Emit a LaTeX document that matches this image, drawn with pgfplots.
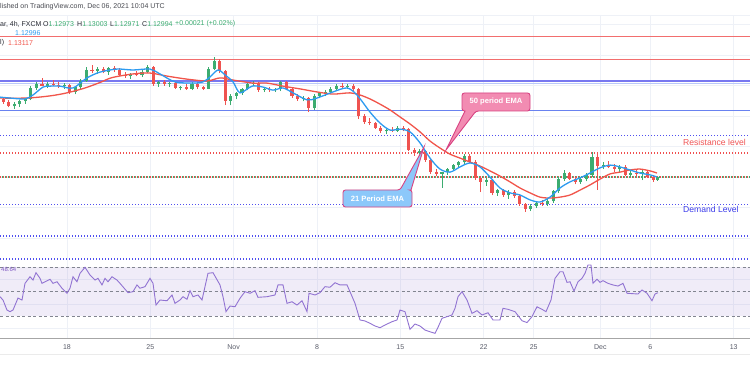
\documentclass[border=0pt]{standalone}
\usepackage{pgfplots}
\pgfplotsset{compat=1.18}
\usepackage{pgfplotstable}
\usepackage{fontspec}
\setmainfont{Liberation Sans}

\definecolor{upc}{RGB}{60,172,112}
\definecolor{dnc}{RGB}{239,83,80}
\definecolor{emab}{RGB}{45,155,240}
\definecolor{emar}{RGB}{241,85,75}
\definecolor{gridc}{RGB}{238,241,247}
\definecolor{redline}{RGB}{242,110,110}
\definecolor{bluethick}{RGB}{120,120,240}
\definecolor{bluelight}{RGB}{185,200,250}
\definecolor{bluethin}{RGB}{105,130,240}
\definecolor{dotblue}{RGB}{80,80,240}
\definecolor{dotred}{RGB}{240,80,80}
\definecolor{rsic}{RGB}{145,115,210}
\definecolor{rsiband}{RGB}{126,87,194}
\definecolor{dashc}{RGB}{130,133,144}
\definecolor{tickc}{RGB}{90,93,106}
\definecolor{txtc}{RGB}{40,42,50}
\definecolor{pinkfill}{RGB}{242,140,178}
\definecolor{pinkedge}{RGB}{216,67,130}
\definecolor{bluefill}{RGB}{140,200,250}
\definecolor{resc}{RGB}{240,85,85}
\definecolor{demc}{RGB}{60,60,235}

% 8-hour candles, x in trading days from Mon 18 Oct 2021
\pgfplotstableread{
x o h l c
-3.833 1.1555 1.1562 1.1540 1.1545
-3.5 1.1545 1.1552 1.1528 1.1532
-3.167 1.1532 1.1545 1.1524 1.1538
-2.833 1.1538 1.1552 1.1530 1.1548
-2.5 1.1548 1.1560 1.1540 1.1555
-2.167 1.1555 1.1598 1.1552 1.1592
-1.833 1.1592 1.1612 1.1585 1.1606
-1.5 1.1606 1.1624 1.1598 1.1600
-1.167 1.1600 1.1612 1.1592 1.1606
-0.833 1.1606 1.1618 1.1598 1.1603
-0.5 1.1603 1.1612 1.1592 1.1598
-0.167 1.1598 1.1608 1.1590 1.1601
0.167 1.1601 1.1604 1.1572 1.1580
0.5 1.1580 1.1598 1.1571 1.1594
0.833 1.1594 1.1620 1.1590 1.1615
1.167 1.1615 1.1660 1.1612 1.1652
1.5 1.1652 1.1669 1.1640 1.1648
1.833 1.1648 1.1660 1.1638 1.1655
2.167 1.1655 1.1662 1.1640 1.1645
2.5 1.1645 1.1660 1.1636 1.1657
2.833 1.1657 1.1665 1.1645 1.1650
3.167 1.1650 1.1656 1.1632 1.1636
3.5 1.1636 1.1645 1.1625 1.1630
3.833 1.1630 1.1642 1.1622 1.1638
4.167 1.1638 1.1648 1.1630 1.1634
4.5 1.1634 1.1650 1.1628 1.1645
4.833 1.1645 1.1668 1.1640 1.1660
5.167 1.1660 1.1665 1.1600 1.1605
5.5 1.1605 1.1615 1.1596 1.1610
5.833 1.1610 1.1618 1.1600 1.1604
6.167 1.1604 1.1612 1.1595 1.1608
6.5 1.1608 1.1612 1.1588 1.1592
6.833 1.1592 1.1600 1.1584 1.1596
7.167 1.1596 1.1605 1.1586 1.1590
7.5 1.1590 1.1612 1.1585 1.1606
7.833 1.1606 1.1612 1.1588 1.1594
8.167 1.1594 1.1600 1.1585 1.1590
8.5 1.1590 1.1660 1.1588 1.1655
8.833 1.1655 1.1692 1.1650 1.1680
9.167 1.1680 1.1688 1.1640 1.1648
9.5 1.1648 1.1652 1.1536 1.1550
9.833 1.1550 1.1572 1.1535 1.1566
10.167 1.1566 1.1580 1.1555 1.1575
10.5 1.1575 1.1592 1.1570 1.1588
10.833 1.1588 1.1612 1.1584 1.1605
11.167 1.1605 1.1614 1.1598 1.1608
11.5 1.1608 1.1610 1.1580 1.1585
11.833 1.1585 1.1594 1.1578 1.1590
12.167 1.1590 1.1596 1.1580 1.1584
12.5 1.1584 1.1592 1.1578 1.1588
12.833 1.1588 1.1616 1.1582 1.1612
13.167 1.1612 1.1616 1.1585 1.1590
13.5 1.1590 1.1594 1.1560 1.1565
13.833 1.1565 1.1572 1.1550 1.1556
14.167 1.1556 1.1566 1.1548 1.1560
14.5 1.1560 1.1564 1.1513 1.1525
14.833 1.1525 1.1572 1.1520 1.1566
15.167 1.1566 1.1578 1.1558 1.1574
15.5 1.1574 1.1585 1.1565 1.1580
15.833 1.1580 1.1595 1.1575 1.1590
16.167 1.1590 1.1605 1.1584 1.1598
16.5 1.1598 1.1608 1.1590 1.1594
16.833 1.1594 1.1606 1.1588 1.1600
17.167 1.1600 1.1606 1.1582 1.1588
17.5 1.1588 1.1592 1.1490 1.1500
17.833 1.1500 1.1506 1.1475 1.1482
18.167 1.1482 1.1492 1.1470 1.1476
18.5 1.1476 1.1480 1.1458 1.1462
18.833 1.1462 1.1468 1.1444 1.1450
19.167 1.1450 1.1462 1.1440 1.1455
19.5 1.1455 1.1464 1.1446 1.1452
19.833 1.1452 1.1466 1.1448 1.1460
20.167 1.1460 1.1466 1.1450 1.1456
20.5 1.1456 1.1460 1.1385 1.1390
20.833 1.1390 1.1396 1.1370 1.1378
21.167 1.1378 1.1392 1.1370 1.1386
21.5 1.1386 1.1390 1.1350 1.1356
21.833 1.1356 1.1360 1.1310 1.1318
22.167 1.1318 1.1325 1.1302 1.1310
22.5 1.1310 1.1318 1.1264 1.1315
22.833 1.1315 1.1330 1.1308 1.1326
23.167 1.1326 1.1344 1.1320 1.1340
23.5 1.1340 1.1352 1.1334 1.1348
23.833 1.1348 1.1376 1.1342 1.1370
24.167 1.1370 1.1374 1.1345 1.1350
24.5 1.1350 1.1355 1.1290 1.1296
24.833 1.1296 1.1300 1.1250 1.1285
25.167 1.1285 1.1296 1.1272 1.1290
25.5 1.1290 1.1294 1.1240 1.1248
25.833 1.1248 1.1262 1.1238 1.1256
26.167 1.1256 1.1262 1.1235 1.1240
26.5 1.1240 1.1258 1.1228 1.1250
26.833 1.1250 1.1256 1.1232 1.1238
27.167 1.1238 1.1245 1.1205 1.1210
27.5 1.1210 1.1215 1.1186 1.1196
27.833 1.1196 1.1210 1.1188 1.1204
28.167 1.1204 1.1222 1.1198 1.1216
28.5 1.1216 1.1226 1.1206 1.1212
28.833 1.1212 1.1228 1.1205 1.1220
29.167 1.1220 1.1258 1.1215 1.1254
29.5 1.1254 1.1300 1.1248 1.1295
29.833 1.1295 1.1322 1.1288 1.1312
30.167 1.1312 1.1318 1.1290 1.1294
30.5 1.1294 1.1300 1.1276 1.1282
30.833 1.1282 1.1296 1.1278 1.1292
31.167 1.1292 1.1312 1.1286 1.1308
31.5 1.1308 1.1383 1.1300 1.1366
31.833 1.1366 1.1374 1.1258 1.1336
32.167 1.1336 1.1348 1.1326 1.1340
32.5 1.1340 1.1352 1.1330 1.1334
32.833 1.1334 1.1342 1.1318 1.1326
33.167 1.1326 1.1338 1.1318 1.1332
33.5 1.1332 1.1340 1.1302 1.1308
33.833 1.1308 1.1320 1.1300 1.1314
34.167 1.1314 1.1322 1.1302 1.1310
34.5 1.1310 1.1326 1.1290 1.1316
34.833 1.1316 1.1322 1.1296 1.1300
35.167 1.1300 1.1306 1.1284 1.1290
35.45 1.1290 1.1300 1.1288 1.1299
}\candles

\pgfplotsset{
  paneaxis/.style={
    anchor=south west, scale only axis, width=750pt,
    xmin=-4.02, xmax=40.98,
    xtick={0,5,10,15,20,25,28,32,35,40},
    yticklabels={}, major tick length=0pt, tick style={draw=none},
    grid=major, major grid style={draw=gridc, line width=0.8pt},
    axis line style={draw=none},
  },
  hl/.style={mark=none, line width=#1},
  dots/.style={mark=none, line width=1.4pt, dash pattern=on 1.4pt off 1.6pt},
}

\begin{document}
\begin{tikzpicture}
\useasboundingbox (0pt,0pt) rectangle (750pt,375pt);
\fill[white] (0pt,0pt) rectangle (750pt,375pt);

% ---------------- price pane ----------------
\begin{axis}[paneaxis, at={(0pt,115pt)}, height=245pt,
  ymin=1.102776, ymax=1.183136, xticklabels={},
  ytick={1.11,1.12,1.13,1.14,1.15,1.16,1.17,1.18}]
  % drawn levels
  \addplot[redline, hl=0.9pt] coordinates {(-4.02,1.17625) (40.98,1.17625)};
  \addplot[redline, hl=0.9pt] coordinates {(-4.02,1.1686) (40.98,1.1686)};
  \addplot[bluelight, hl=1pt] coordinates {(-4.02,1.16083) (40.98,1.16083)};
  \addplot[bluethick, hl=1.6pt] coordinates {(-4.02,1.16149) (40.98,1.16149)};
  \addplot[bluethin, hl=1pt] coordinates {(-4.02,1.15165) (40.98,1.15165)};
  \addplot[dotblue, dots] coordinates {(-4.02,1.14355) (40.98,1.14355)};
  \addplot[dotred, dots, line width=1.1pt] coordinates {(-4.02,1.13787) (40.98,1.13787)};
  \addplot[dotred, dots, line width=1.1pt] coordinates {(-4.02,1.1300) (40.98,1.1300)};
  \addplot[upc, dots, line width=1.1pt, dash phase=1.5pt] coordinates {(-4.02,1.1300) (40.98,1.1300)};
  \addplot[dotblue, dots] coordinates {(-4.02,1.12105) (40.98,1.12105)};
  \addplot[dotblue, dots] coordinates {(-4.02,1.11065) (40.98,1.11065)};
  \addplot[dotblue, dots] coordinates {(-4.02,1.1031) (40.98,1.1031)};
  % candles: wicks
  \addplot[upc, line width=0.8pt, mark=none, quiver={u=0,v=\thisrow{h}-\thisrow{l}},
    restrict expr to domain={\thisrow{c}-\thisrow{o}}{0:1}] table[x=x,y=l]{\candles};
  \addplot[dnc, line width=0.8pt, mark=none, quiver={u=0,v=\thisrow{h}-\thisrow{l}},
    restrict expr to domain={\thisrow{c}-\thisrow{o}}{-1:0}] table[x=x,y=l]{\candles};
  % candles: bodies
  \addplot[upc, line width=3.2pt, mark=none, quiver={u=0,v=\thisrow{c}-\thisrow{o}},
    restrict expr to domain={\thisrow{c}-\thisrow{o}}{0:1}] table[x=x,y=o]{\candles};
  \addplot[dnc, line width=3.2pt, mark=none, quiver={u=0,v=\thisrow{c}-\thisrow{o}},
    restrict expr to domain={\thisrow{c}-\thisrow{o}}{-1:0}] table[x=x,y=o]{\candles};
  % EMA 50
  \addplot[emar, line width=1.3pt, mark=none, smooth] coordinates {
    (-4.02,1.1559) (-2.4,1.1559) (-1.02,1.1566) (0,1.1576) (1.08,1.1592) (1.98,1.1610)
    (2.7,1.1626) (3.96,1.1638) (4.98,1.1641) (6.0,1.1631) (7.2,1.1621) (8.4,1.1615)
    (9.18,1.1625) (9.96,1.1618) (11.16,1.1608) (12.0,1.1608) (12.96,1.1598) (13.98,1.1589)
    (15.0,1.1579) (15.96,1.1572) (16.98,1.1576) (17.58,1.1569) (18.18,1.1556) (18.78,1.1539)
    (19.38,1.1520) (19.98,1.1497) (20.58,1.1474) (21.18,1.1448) (21.78,1.1418) (22.38,1.1395)
    (22.98,1.1375) (23.58,1.1362) (24.18,1.1349) (24.78,1.1336) (25.38,1.1320) (25.98,1.1303)
    (26.58,1.1284) (27.18,1.1264) (27.78,1.1248) (28.38,1.1234) (28.98,1.1231) (29.58,1.1234)
    (30.18,1.1241) (30.78,1.1257) (31.38,1.1274) (31.98,1.1293) (32.58,1.1310) (33.18,1.1316)
    (33.78,1.1323) (34.38,1.1326) (34.98,1.1320) (35.4,1.1313)};
  % EMA 21
  \addplot[emab, line width=1.3pt, mark=none, smooth] coordinates {
    (-4.02,1.1562) (-3.42,1.1559) (-2.52,1.1556) (-2.04,1.1569) (-1.44,1.1595) (-1.02,1.1598)
    (-0.42,1.1598) (0.36,1.1592) (1.2,1.1625) (1.98,1.1644) (3.0,1.1654) (3.96,1.1651)
    (4.98,1.1654) (5.58,1.1638) (6.48,1.1612) (7.56,1.1608) (8.16,1.1612) (8.58,1.1628)
    (9.06,1.1651) (9.48,1.1635) (9.96,1.1612) (10.38,1.1576) (11.1,1.1598) (11.76,1.1595)
    (12.36,1.1585) (12.96,1.1592) (13.56,1.1576) (14.4,1.1553) (15.0,1.1559) (15.96,1.1579)
    (16.8,1.1592) (17.4,1.1569) (18.18,1.1513) (18.78,1.1477) (19.38,1.1454) (19.98,1.1457)
    (20.58,1.1448) (21.18,1.1412) (21.78,1.1362) (22.38,1.1326) (22.98,1.1316) (23.58,1.1333)
    (24.18,1.1346) (24.78,1.1333) (25.38,1.1300) (25.98,1.1264) (26.58,1.1248) (27.18,1.1241)
    (27.78,1.1225) (28.38,1.1218) (28.98,1.1234) (29.58,1.1264) (30.18,1.1284) (30.78,1.1297)
    (31.38,1.1313) (31.98,1.1330) (32.58,1.1339) (33.18,1.1333) (33.78,1.1323) (34.38,1.1313)
    (34.98,1.1307) (35.4,1.1300)};
\end{axis}

% ---------------- RSI pane ----------------
\begin{axis}[paneaxis, at={(0pt,37pt)}, height=78pt,
  ymin=12.3, ymax=75.96, ytick={20,40,60},
  xticklabels={18,25,Nov,8,15,22,25,Dec,6,13},
  xticklabel style={font=\fontsize{7}{8}\selectfont, text=tickc, inner sep=0pt, anchor=north, yshift=-6pt}]
  \fill[rsiband, fill opacity=0.11] (axis cs:-4.02,30) rectangle (axis cs:40.98,70);
  \addplot[dashc, mark=none, line width=0.7pt, dash pattern=on 3pt off 2.5pt] coordinates {(-4.02,70) (40.98,70)};
  \addplot[dashc, mark=none, line width=0.7pt, dash pattern=on 3pt off 2.5pt] coordinates {(-4.02,50) (40.98,50)};
  \addplot[dashc, mark=none, line width=0.7pt, dash pattern=on 3pt off 2.5pt] coordinates {(-4.02,30) (40.98,30)};
  \addplot[rsic, line width=0.9pt, mark=none] coordinates {
    (-4.02,46.0)(-3.84,43.3)(-3.60,35.1)(-3.42,33.8)(-3.24,35.1)(-2.94,44.9)(-2.70,43.3)(-2.52,56.9)
    (-2.22,62.3)(-2.04,59.6)(-1.86,65.6)(-1.62,61.0)(-1.50,56.9)(-1.32,58.2)(-1.02,60.2)(-0.84,56.9)
    (-0.60,58.2)(-0.30,52.9)(0.00,48.8)(0.18,52.9)(0.36,62.3)(0.60,58.2)(0.78,65.1)(1.08,70.0)
    (1.38,63.7)(1.68,59.6)(1.86,61.0)(2.10,55.6)(2.28,61.0)(2.46,58.2)(2.70,62.3)(3.00,59.6)
    (3.18,56.9)(3.66,49.3)(3.96,50.1)(4.20,55.6)(4.38,52.9)(4.68,54.2)(4.98,61.0)(5.16,56.9)
    (5.34,39.2)(5.58,43.3)(6.00,42.7)(6.30,47.4)(6.48,40.6)(6.78,43.3)(6.96,46.0)(7.20,43.9)
    (7.38,50.9)(7.56,46.0)(7.86,47.4)(8.10,43.3)(8.28,54.2)(8.46,65.1)(8.76,65.6)(9.18,55.6)
    (9.36,46.0)(9.54,33.8)(9.78,38.4)(10.08,37.8)(10.38,44.7)(10.68,50.1)(10.98,48.8)(11.28,50.9)
    (11.46,45.5)(12.00,46.0)(12.48,47.4)(12.66,55.6)(12.96,55.6)(13.20,40.6)(13.50,41.9)(13.80,39.2)
    (14.10,42.7)(14.40,33.8)(14.52,48.8)(14.88,47.4)(15.18,49.3)(15.48,54.2)(15.78,53.7)(16.08,57.4)
    (16.38,55.6)(16.80,55.6)(16.98,50.1)(17.28,40.6)(17.58,27.0)(17.88,26.2)(18.18,24.3)(18.48,22.1)
    (18.78,20.7)(19.08,22.9)(19.50,25.6)(19.80,27.0)(19.98,35.1)(20.28,33.8)(20.58,19.4)(20.88,23.7)
    (21.18,22.1)(21.48,18.8)(21.78,17.4)(22.08,16.1)(22.26,21.0)(22.50,28.4)(22.80,29.7)(23.10,31.1)
    (23.28,36.5)(23.46,46.0)(23.70,50.1)(24.00,43.3)(24.30,32.4)(24.60,34.6)(24.90,31.1)(25.26,32.9)
    (25.56,27.0)(25.98,27.0)(26.16,36.5)(26.46,35.7)(26.88,33.8)(27.30,26.4)(27.60,24.9)(27.90,29.7)
    (28.20,37.8)(28.50,35.7)(28.74,33.8)(29.04,43.3)(29.28,61.0)(29.58,66.4)(29.76,66.4)(30.00,57.7)
    (30.18,58.2)(30.42,50.6)(30.66,58.2)(30.90,61.0)(31.08,65.1)(31.26,71.9)(31.44,71.9)(31.56,56.9)
    (31.80,60.2)(31.98,57.7)(32.16,59.1)(32.46,56.9)(32.76,55.6)(33.06,54.7)(33.36,56.9)(33.60,48.8)
    (34.26,48.2)(34.50,51.5)(34.80,48.8)(35.10,42.7)(35.28,48.2)(35.46,49.3)};
\end{axis}

% ---------------- overlay (1 unit = 1 px, y up) ----------------
\begin{scope}[x=1pt,y=1pt]
  \draw[gridc, line width=0.8pt] (0,360) -- (750,360);
  \draw[black!35, line width=0.8pt] (0,37) -- (750,37);
  \draw[black!8, line width=0.6pt] (0,21) -- (750,21);

  % header / legend
  \begin{scope}[every node/.style={anchor=west, inner sep=0pt, font=\fontsize{7}{8}\selectfont}]
    \node[text=txtc!85] at (0,368) {lished on TradingView.com, Dec 06, 2021 10:04 UTC};
    \node[text=txtc] at (0,351) {ar, 4h, FXCM};
    \node at (43,351) {\textcolor{txtc}{O}\textcolor{upc}{1.12973}};
    \node at (77,351) {\textcolor{txtc}{H}\textcolor{upc}{1.13003}};
    \node at (110,351) {\textcolor{txtc}{L}\textcolor{upc}{1.12971}};
    \node at (142,351) {\textcolor{txtc}{C}\textcolor{upc}{1.12994}};
    \node[text=upc] at (175,351) {+0.00021 (+0.02\%)};
    \node[text=emab] at (15,342) {1.12996};
    \node[text=txtc] at (0,332) {l)};
    \node[text=emar] at (8,332) {1.13117};
    \node[text=rsiband, font=\fontsize{6}{7}\selectfont] at (1,106) {48.64};
  \end{scope}

  % level labels
  \node[anchor=west, inner sep=0pt, text=resc, font=\fontsize{8.6}{9}\selectfont] at (683,232.5) {Resistance level};
  \node[anchor=west, inner sep=0pt, text=demc, font=\fontsize{8.6}{9}\selectfont] at (683,166) {Demand Level};

  % callout: 50 period EMA
  \path[fill=pinkfill, draw=pinkedge, line width=0.9pt, rounded corners=2.5pt]
    (462,282) -- (530,282) -- (530,264) -- (476,264) [sharp corners] -- (446,225) -- (465,264)
    [rounded corners=2.5pt] -- (462,264) -- cycle;
  \node[text=white, font=\bfseries\fontsize{7.6}{8}\selectfont] at (496,273) {50 period EMA};

  % callout: 21 Period EMA
  \path[fill=bluefill, draw=pinkedge, line width=0.9pt, rounded corners=2.5pt]
    (343,168) -- (343,185) -- (400,185) [sharp corners] -- (424,228) -- (411,185)
    [rounded corners=2.5pt] -- (412,185) -- (412,168) -- cycle;
  \node[text=white, font=\bfseries\fontsize{7.6}{8}\selectfont] at (377.5,176.5) {21 Period EMA};
\end{scope}
\end{tikzpicture}
\end{document}
